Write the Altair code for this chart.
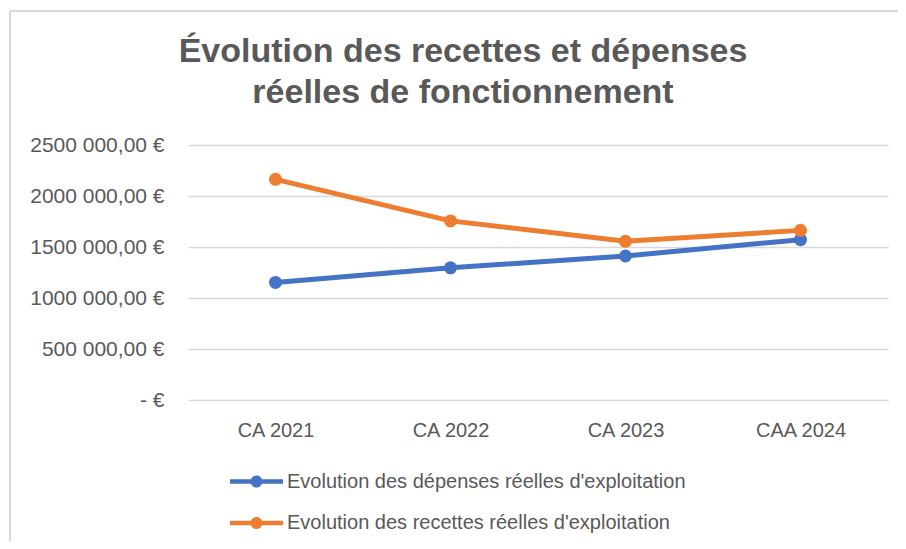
import altair as alt
import pandas as pd

categories = ["CA 2021", "CA 2022", "CA  2023", "CAA 2024"]
depenses = [1153000, 1296000, 1412000, 1572000]
recettes = [2163000, 1756000, 1556000, 1663000]
series_names = [
    "Evolution des dépenses réelles d'exploitation",
    "Evolution des recettes réelles d'exploitation",
]
colors = ["#4472C4", "#ED7D31"]
y_ticks = [0, 500000, 1000000, 1500000, 2000000, 2500000]

rows = []
for i, c in enumerate(categories):
    rows.append({"cat": c, "serie": series_names[0], "val": depenses[i]})
for i, c in enumerate(categories):
    rows.append({"cat": c, "serie": series_names[1], "val": recettes[i]})
df = pd.DataFrame(rows)

FONT = "Liberation Sans"
GREY = "#595959"

sym = ("M-2,-0.174H2V0.174H-2Z"
       "M-0.453,0A0.453,0.453 0 1,1 0.453,0A0.453,0.453 0 1,1 -0.453,0Z")

x_enc = alt.X("cat:N", sort=categories,
              scale=alt.Scale(type="point", padding=0.5),
              axis=alt.Axis(title=None, labelAngle=0, domain=False, ticks=False,
                            labelPadding=20, labelFontSize=20, labelColor=GREY,
                            labelFont=FONT, grid=False))
y_enc = alt.Y("val:Q", scale=alt.Scale(domain=[0, 2500000], nice=False),
              axis=alt.Axis(title=None, values=y_ticks, domain=False, ticks=False,
                            labelPadding=24, labelFontSize=21, labelColor=GREY,
                            labelFont=FONT, gridColor="#d9d9d9", gridWidth=1.5,
                            labelExpr="datum.value == 0 ? '-   €' : format(datum.value/1000, '.0f') + ' 000,00 €'"))
color_pts = alt.Color("serie:N", sort=series_names,
                      scale=alt.Scale(domain=series_names, range=colors),
                      legend=alt.Legend(title=None, orient="none", legendX=55, legendY=323,
                                        direction="vertical", symbolType=sym, symbolSize=702,
                                        symbolStrokeWidth=0, symbolOpacity=1,
                                        labelFontSize=20, labelColor=GREY, labelLimit=700,
                                        labelFont=FONT, labelOffset=17, rowPadding=17.5,
                                        padding=0))

base = alt.Chart(df)
line_layers = [
    base.transform_filter(alt.datum.serie == s).mark_line(color=c, strokeWidth=5).encode(x=x_enc, y=y_enc)
    for s, c in zip(series_names, colors)
]
points = base.mark_circle(size=169, opacity=1).encode(x=x_enc, y=y_enc, color=color_pts)

frame_df = pd.DataFrame({"k": [0]})
top_rule = alt.Chart(frame_df).mark_rule(color="#d9d9d9", strokeWidth=2).encode(
    x=alt.value(-178), x2=alt.value(720), y=alt.value(-134))
left_rule = alt.Chart(frame_df).mark_rule(color="#d9d9d9", strokeWidth=2).encode(
    x=alt.value(-178), y=alt.value(-134), y2=alt.value(404))

chart = alt.layer(*line_layers, points, top_rule, left_rule).properties(
    width=700, height=255,
    autosize=alt.AutoSizeParams(type="none"),
    padding={"left": 180, "top": 137, "right": 10, "bottom": 141},
    title=alt.TitleParams(
        text=["Évolution des recettes et dépenses", "réelles de fonctionnement"],
        font=FONT, fontSize=34, fontWeight="bold", color=GREY, lineHeight=41,
        anchor="middle", dx=-75, offset=-100),
).configure_view(stroke=None)

chart.save("out.html", embed_options={"renderer": "svg", "actions": False})
